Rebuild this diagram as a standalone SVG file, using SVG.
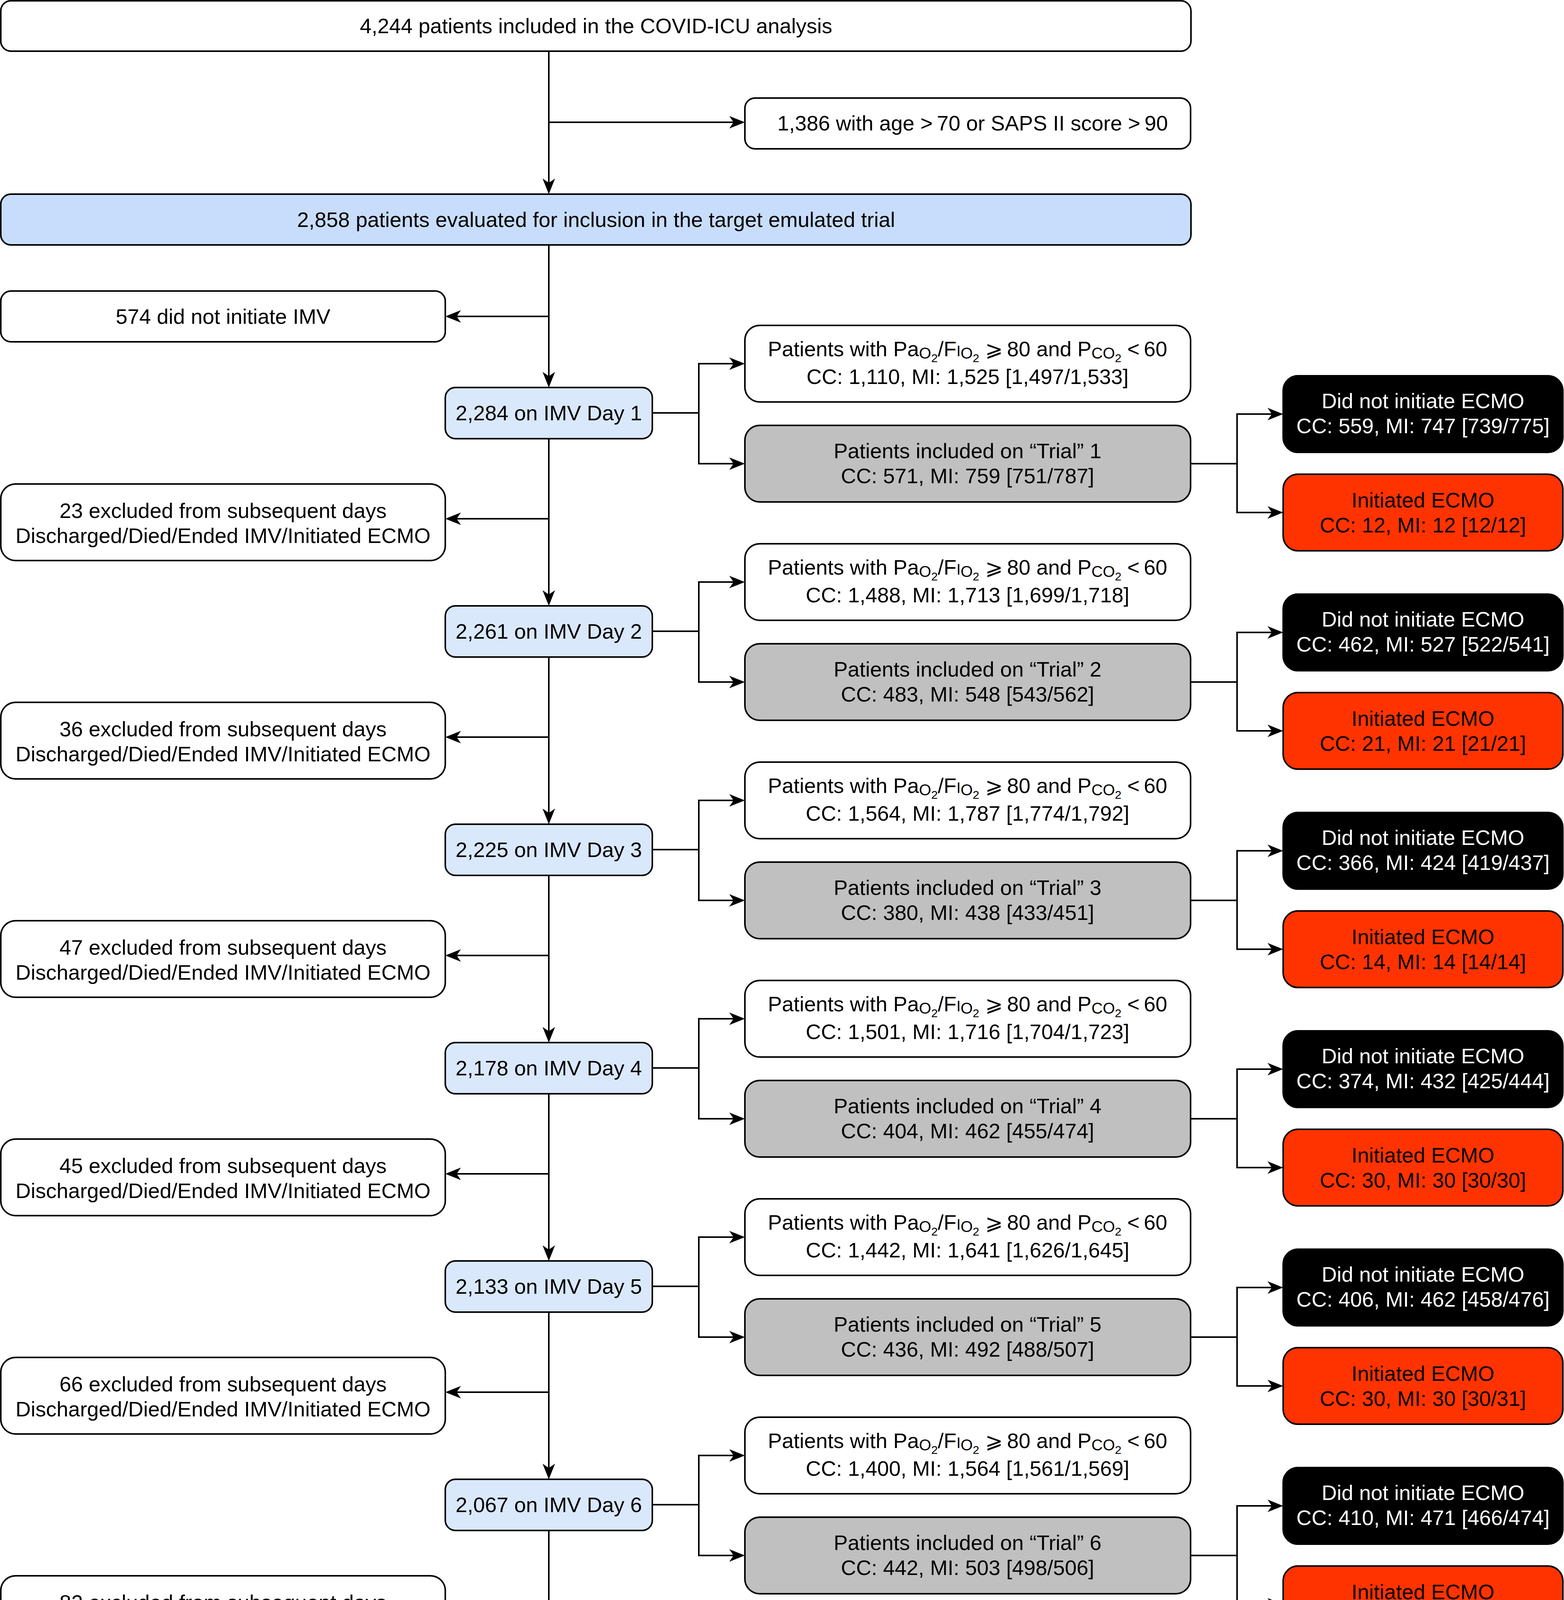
<svg xmlns="http://www.w3.org/2000/svg" width="4004" height="4766" viewBox="0 0 4004 4766">
<style>
.b{stroke:#000;stroke-width:4}
.w{fill:#fff}
.bl{fill:#dae8fc}
.bl2{fill:#c8ddfb}
.g{fill:#c0c0c0}
.k{fill:#000}
.r{fill:#ff3300}
.t{font-family:"Liberation Sans",Arial,Helvetica,"DejaVu Sans",sans-serif;font-size:54px;text-anchor:middle;fill:#000}
.tw{fill:#fff}
.s1{font-size:40px}
.s2{font-size:30px}
.sc{font-size:38px}
.c{fill:none;stroke:#000;stroke-width:4}
</style>
<defs>
<marker id="ah" markerUnits="userSpaceOnUse" markerWidth="44" markerHeight="36" refX="20" refY="16" orient="auto" overflow="visible">
<path d="M0,0 L40,16 L0,32 L11,16 Z" fill="#000"/>
</marker>
</defs>

<g id="connectors">
<path class="c" d="M1405,131 V477" marker-end="url(#ah)"/>
<path class="c" d="M1405,313 H1887" marker-end="url(#ah)"/>
<path class="c" d="M1405,627 V972" marker-end="url(#ah)"/>
<path class="c" d="M1405,810 H1160" marker-end="url(#ah)"/>
<g id="conn-days">
<g transform="translate(0,0)">
<path class="c" d="M1405,1123 V1531" marker-end="url(#ah)"/>
<path class="c" d="M1405,1328 H1160" marker-end="url(#ah)"/>
<path class="c" d="M1670,1057 H1789 V931 H1887" marker-end="url(#ah)"/>
<path class="c" d="M1789,1057 V1187 H1887" marker-end="url(#ah)"/>
<path class="c" d="M3048,1187 H3167 V1060 H3265" marker-end="url(#ah)"/>
<path class="c" d="M3167,1187 V1312 H3265" marker-end="url(#ah)"/>
</g>
<g transform="translate(0,559)">
<path class="c" d="M1405,1123 V1531" marker-end="url(#ah)"/>
<path class="c" d="M1405,1328 H1160" marker-end="url(#ah)"/>
<path class="c" d="M1670,1057 H1789 V931 H1887" marker-end="url(#ah)"/>
<path class="c" d="M1789,1057 V1187 H1887" marker-end="url(#ah)"/>
<path class="c" d="M3048,1187 H3167 V1060 H3265" marker-end="url(#ah)"/>
<path class="c" d="M3167,1187 V1312 H3265" marker-end="url(#ah)"/>
</g>
<g transform="translate(0,1118)">
<path class="c" d="M1405,1123 V1531" marker-end="url(#ah)"/>
<path class="c" d="M1405,1328 H1160" marker-end="url(#ah)"/>
<path class="c" d="M1670,1057 H1789 V931 H1887" marker-end="url(#ah)"/>
<path class="c" d="M1789,1057 V1187 H1887" marker-end="url(#ah)"/>
<path class="c" d="M3048,1187 H3167 V1060 H3265" marker-end="url(#ah)"/>
<path class="c" d="M3167,1187 V1312 H3265" marker-end="url(#ah)"/>
</g>
<g transform="translate(0,1677)">
<path class="c" d="M1405,1123 V1531" marker-end="url(#ah)"/>
<path class="c" d="M1405,1328 H1160" marker-end="url(#ah)"/>
<path class="c" d="M1670,1057 H1789 V931 H1887" marker-end="url(#ah)"/>
<path class="c" d="M1789,1057 V1187 H1887" marker-end="url(#ah)"/>
<path class="c" d="M3048,1187 H3167 V1060 H3265" marker-end="url(#ah)"/>
<path class="c" d="M3167,1187 V1312 H3265" marker-end="url(#ah)"/>
</g>
<g transform="translate(0,2236)">
<path class="c" d="M1405,1123 V1531" marker-end="url(#ah)"/>
<path class="c" d="M1405,1328 H1160" marker-end="url(#ah)"/>
<path class="c" d="M1670,1057 H1789 V931 H1887" marker-end="url(#ah)"/>
<path class="c" d="M1789,1057 V1187 H1887" marker-end="url(#ah)"/>
<path class="c" d="M3048,1187 H3167 V1060 H3265" marker-end="url(#ah)"/>
<path class="c" d="M3167,1187 V1312 H3265" marker-end="url(#ah)"/>
</g>
<g transform="translate(0,2795)">
<path class="c" d="M1405,1123 V1531" marker-end="url(#ah)"/>
<path class="c" d="M1405,1328 H1160" marker-end="url(#ah)"/>
<path class="c" d="M1670,1057 H1789 V931 H1887" marker-end="url(#ah)"/>
<path class="c" d="M1789,1057 V1187 H1887" marker-end="url(#ah)"/>
<path class="c" d="M3048,1187 H3167 V1060 H3265" marker-end="url(#ah)"/>
<path class="c" d="M3167,1187 V1312 H3265" marker-end="url(#ah)"/>
</g>
<g transform="translate(0,3354)">
<path class="c" d="M1670,1057 H1789 V931 H1887" marker-end="url(#ah)"/>
<path class="c" d="M1789,1057 V1187 H1887" marker-end="url(#ah)"/>
<path class="c" d="M3048,1187 H3167 V1060 H3265" marker-end="url(#ah)"/>
<path class="c" d="M3167,1187 V1312 H3265" marker-end="url(#ah)"/>
</g>
</g>
</g>

<g id="n-total"><rect class="b w" x="2" y="2" width="3047" height="129" rx="26"/><text class="t" x="1526" y="85">4,244 patients included in the COVID-ICU analysis</text></g>
<g id="n-age"><rect class="b w" x="1907" y="251" width="1141" height="130" rx="26"/><text class="t" x="2490" y="334">1,386 with age &gt;&#8201;70 or SAPS II score &gt;&#8201;90</text></g>
<g id="n-eval"><rect class="b bl2" x="2" y="497" width="3047" height="130" rx="26"/><text class="t" x="1526" y="581">2,858 patients evaluated for inclusion in the target emulated trial</text></g>
<g id="n-noimv"><rect class="b w" x="2" y="745" width="1138" height="130" rx="26"/><text class="t" x="571" y="829">574 did not initiate IMV</text></g>

<g id="day1"><rect class="b bl" x="1140" y="992" width="530" height="131" rx="26"/><text class="t" x="1405" y="1076">2,284 on IMV Day 1</text></g>
<g id="day2" transform="translate(0,559)"><rect class="b bl" x="1140" y="992" width="530" height="131" rx="26"/><text class="t" x="1405" y="1076">2,261 on IMV Day 2</text></g>
<g id="day3" transform="translate(0,1118)"><rect class="b bl" x="1140" y="992" width="530" height="131" rx="26"/><text class="t" x="1405" y="1076">2,225 on IMV Day 3</text></g>
<g id="day4" transform="translate(0,1677)"><rect class="b bl" x="1140" y="992" width="530" height="131" rx="26"/><text class="t" x="1405" y="1076">2,178 on IMV Day 4</text></g>
<g id="day5" transform="translate(0,2236)"><rect class="b bl" x="1140" y="992" width="530" height="131" rx="26"/><text class="t" x="1405" y="1076">2,133 on IMV Day 5</text></g>
<g id="day6" transform="translate(0,2795)"><rect class="b bl" x="1140" y="992" width="530" height="131" rx="26"/><text class="t" x="1405" y="1076">2,067 on IMV Day 6</text></g>
<g id="day7" transform="translate(0,3354)"><rect class="b bl" x="1140" y="992" width="530" height="131" rx="26"/><text class="t" x="1405" y="1076">1,985 on IMV Day 7</text></g>

<g id="excl1"><rect class="b w" x="2" y="1239" width="1138" height="196" rx="38"/><text class="t" x="571" y="1326">23 excluded from subsequent days</text><text class="t" x="571" y="1390">Discharged/Died/Ended IMV/Initiated ECMO</text></g>
<g id="excl2" transform="translate(0,559)"><rect class="b w" x="2" y="1239" width="1138" height="196" rx="38"/><text class="t" x="571" y="1326">36 excluded from subsequent days</text><text class="t" x="571" y="1390">Discharged/Died/Ended IMV/Initiated ECMO</text></g>
<g id="excl3" transform="translate(0,1118)"><rect class="b w" x="2" y="1239" width="1138" height="196" rx="38"/><text class="t" x="571" y="1326">47 excluded from subsequent days</text><text class="t" x="571" y="1390">Discharged/Died/Ended IMV/Initiated ECMO</text></g>
<g id="excl4" transform="translate(0,1677)"><rect class="b w" x="2" y="1239" width="1138" height="196" rx="38"/><text class="t" x="571" y="1326">45 excluded from subsequent days</text><text class="t" x="571" y="1390">Discharged/Died/Ended IMV/Initiated ECMO</text></g>
<g id="excl5" transform="translate(0,2236)"><rect class="b w" x="2" y="1239" width="1138" height="196" rx="38"/><text class="t" x="571" y="1326">66 excluded from subsequent days</text><text class="t" x="571" y="1390">Discharged/Died/Ended IMV/Initiated ECMO</text></g>
<g id="excl6" transform="translate(0,2795)"><rect class="b w" x="2" y="1239" width="1138" height="196" rx="38"/><text class="t" x="571" y="1326">82 excluded from subsequent days</text><text class="t" x="571" y="1390">Discharged/Died/Ended IMV/Initiated ECMO</text></g>

<g id="crit1"><rect class="b w" x="1907" y="833" width="1141" height="196" rx="38"/><text class="t" x="2477" y="912">Patients with Pa<tspan class="s1" dy="6">O</tspan><tspan class="s2" dy="9">2</tspan><tspan dy="-15">/F</tspan><tspan class="sc">I</tspan><tspan class="s1" dy="6">O</tspan><tspan class="s2" dy="9">2</tspan><tspan dy="-15"> ⩾&#8201;80 and P</tspan><tspan class="s1" dy="6">CO</tspan><tspan class="s2" dy="9">2</tspan><tspan dy="-15"> &lt;&#8201;60</tspan></text><text class="t" x="2477" y="983">CC: 1,110, MI: 1,525 [1,497/1,533]</text></g>
<g id="crit2" transform="translate(0,559)"><rect class="b w" x="1907" y="833" width="1141" height="196" rx="38"/><text class="t" x="2477" y="912">Patients with Pa<tspan class="s1" dy="6">O</tspan><tspan class="s2" dy="9">2</tspan><tspan dy="-15">/F</tspan><tspan class="sc">I</tspan><tspan class="s1" dy="6">O</tspan><tspan class="s2" dy="9">2</tspan><tspan dy="-15"> ⩾&#8201;80 and P</tspan><tspan class="s1" dy="6">CO</tspan><tspan class="s2" dy="9">2</tspan><tspan dy="-15"> &lt;&#8201;60</tspan></text><text class="t" x="2477" y="983">CC: 1,488, MI: 1,713 [1,699/1,718]</text></g>
<g id="crit3" transform="translate(0,1118)"><rect class="b w" x="1907" y="833" width="1141" height="196" rx="38"/><text class="t" x="2477" y="912">Patients with Pa<tspan class="s1" dy="6">O</tspan><tspan class="s2" dy="9">2</tspan><tspan dy="-15">/F</tspan><tspan class="sc">I</tspan><tspan class="s1" dy="6">O</tspan><tspan class="s2" dy="9">2</tspan><tspan dy="-15"> ⩾&#8201;80 and P</tspan><tspan class="s1" dy="6">CO</tspan><tspan class="s2" dy="9">2</tspan><tspan dy="-15"> &lt;&#8201;60</tspan></text><text class="t" x="2477" y="983">CC: 1,564, MI: 1,787 [1,774/1,792]</text></g>
<g id="crit4" transform="translate(0,1677)"><rect class="b w" x="1907" y="833" width="1141" height="196" rx="38"/><text class="t" x="2477" y="912">Patients with Pa<tspan class="s1" dy="6">O</tspan><tspan class="s2" dy="9">2</tspan><tspan dy="-15">/F</tspan><tspan class="sc">I</tspan><tspan class="s1" dy="6">O</tspan><tspan class="s2" dy="9">2</tspan><tspan dy="-15"> ⩾&#8201;80 and P</tspan><tspan class="s1" dy="6">CO</tspan><tspan class="s2" dy="9">2</tspan><tspan dy="-15"> &lt;&#8201;60</tspan></text><text class="t" x="2477" y="983">CC: 1,501, MI: 1,716 [1,704/1,723]</text></g>
<g id="crit5" transform="translate(0,2236)"><rect class="b w" x="1907" y="833" width="1141" height="196" rx="38"/><text class="t" x="2477" y="912">Patients with Pa<tspan class="s1" dy="6">O</tspan><tspan class="s2" dy="9">2</tspan><tspan dy="-15">/F</tspan><tspan class="sc">I</tspan><tspan class="s1" dy="6">O</tspan><tspan class="s2" dy="9">2</tspan><tspan dy="-15"> ⩾&#8201;80 and P</tspan><tspan class="s1" dy="6">CO</tspan><tspan class="s2" dy="9">2</tspan><tspan dy="-15"> &lt;&#8201;60</tspan></text><text class="t" x="2477" y="983">CC: 1,442, MI: 1,641 [1,626/1,645]</text></g>
<g id="crit6" transform="translate(0,2795)"><rect class="b w" x="1907" y="833" width="1141" height="196" rx="38"/><text class="t" x="2477" y="912">Patients with Pa<tspan class="s1" dy="6">O</tspan><tspan class="s2" dy="9">2</tspan><tspan dy="-15">/F</tspan><tspan class="sc">I</tspan><tspan class="s1" dy="6">O</tspan><tspan class="s2" dy="9">2</tspan><tspan dy="-15"> ⩾&#8201;80 and P</tspan><tspan class="s1" dy="6">CO</tspan><tspan class="s2" dy="9">2</tspan><tspan dy="-15"> &lt;&#8201;60</tspan></text><text class="t" x="2477" y="983">CC: 1,400, MI: 1,564 [1,561/1,569]</text></g>
<g id="crit7" transform="translate(0,3354)"><rect class="b w" x="1907" y="833" width="1141" height="196" rx="38"/><text class="t" x="2477" y="912">Patients with Pa<tspan class="s1" dy="6">O</tspan><tspan class="s2" dy="9">2</tspan><tspan dy="-15">/F</tspan><tspan class="sc">I</tspan><tspan class="s1" dy="6">O</tspan><tspan class="s2" dy="9">2</tspan><tspan dy="-15"> ⩾&#8201;80 and P</tspan><tspan class="s1" dy="6">CO</tspan><tspan class="s2" dy="9">2</tspan><tspan dy="-15"> &lt;&#8201;60</tspan></text><text class="t" x="2477" y="983">CC: 1,348, MI: 1,490 [1,481/1,498]</text></g>

<g id="trial1"><rect class="b g" x="1907" y="1089" width="1141" height="196" rx="38"/><text class="t" x="2477" y="1173">Patients included on “Trial” 1</text><text class="t" x="2477" y="1237">CC: 571, MI: 759 [751/787]</text></g>
<g id="trial2" transform="translate(0,559)"><rect class="b g" x="1907" y="1089" width="1141" height="196" rx="38"/><text class="t" x="2477" y="1173">Patients included on “Trial” 2</text><text class="t" x="2477" y="1237">CC: 483, MI: 548 [543/562]</text></g>
<g id="trial3" transform="translate(0,1118)"><rect class="b g" x="1907" y="1089" width="1141" height="196" rx="38"/><text class="t" x="2477" y="1173">Patients included on “Trial” 3</text><text class="t" x="2477" y="1237">CC: 380, MI: 438 [433/451]</text></g>
<g id="trial4" transform="translate(0,1677)"><rect class="b g" x="1907" y="1089" width="1141" height="196" rx="38"/><text class="t" x="2477" y="1173">Patients included on “Trial” 4</text><text class="t" x="2477" y="1237">CC: 404, MI: 462 [455/474]</text></g>
<g id="trial5" transform="translate(0,2236)"><rect class="b g" x="1907" y="1089" width="1141" height="196" rx="38"/><text class="t" x="2477" y="1173">Patients included on “Trial” 5</text><text class="t" x="2477" y="1237">CC: 436, MI: 492 [488/507]</text></g>
<g id="trial6" transform="translate(0,2795)"><rect class="b g" x="1907" y="1089" width="1141" height="196" rx="38"/><text class="t" x="2477" y="1173">Patients included on “Trial” 6</text><text class="t" x="2477" y="1237">CC: 442, MI: 503 [498/506]</text></g>
<g id="trial7" transform="translate(0,3354)"><rect class="b g" x="1907" y="1089" width="1141" height="196" rx="38"/><text class="t" x="2477" y="1173">Patients included on “Trial” 7</text><text class="t" x="2477" y="1237">CC: 440, MI: 495 [487/504]</text></g>

<g id="noecmo1"><rect class="b k" x="3285" y="962" width="716" height="196" rx="38"/><text class="t tw" x="3643" y="1045">Did not initiate ECMO</text><text class="t tw" x="3643" y="1109">CC: 559, MI: 747 [739/775]</text></g>
<g id="noecmo2" transform="translate(0,559)"><rect class="b k" x="3285" y="962" width="716" height="196" rx="38"/><text class="t tw" x="3643" y="1045">Did not initiate ECMO</text><text class="t tw" x="3643" y="1109">CC: 462, MI: 527 [522/541]</text></g>
<g id="noecmo3" transform="translate(0,1118)"><rect class="b k" x="3285" y="962" width="716" height="196" rx="38"/><text class="t tw" x="3643" y="1045">Did not initiate ECMO</text><text class="t tw" x="3643" y="1109">CC: 366, MI: 424 [419/437]</text></g>
<g id="noecmo4" transform="translate(0,1677)"><rect class="b k" x="3285" y="962" width="716" height="196" rx="38"/><text class="t tw" x="3643" y="1045">Did not initiate ECMO</text><text class="t tw" x="3643" y="1109">CC: 374, MI: 432 [425/444]</text></g>
<g id="noecmo5" transform="translate(0,2236)"><rect class="b k" x="3285" y="962" width="716" height="196" rx="38"/><text class="t tw" x="3643" y="1045">Did not initiate ECMO</text><text class="t tw" x="3643" y="1109">CC: 406, MI: 462 [458/476]</text></g>
<g id="noecmo6" transform="translate(0,2795)"><rect class="b k" x="3285" y="962" width="716" height="196" rx="38"/><text class="t tw" x="3643" y="1045">Did not initiate ECMO</text><text class="t tw" x="3643" y="1109">CC: 410, MI: 471 [466/474]</text></g>
<g id="noecmo7" transform="translate(0,3354)"><rect class="b k" x="3285" y="962" width="716" height="196" rx="38"/><text class="t tw" x="3643" y="1045">Did not initiate ECMO</text><text class="t tw" x="3643" y="1109">CC: 415, MI: 470 [462/478]</text></g>

<g id="ecmo1"><rect class="b r" x="3285" y="1214" width="716" height="196" rx="38"/><text class="t" x="3643" y="1299">Initiated ECMO</text><text class="t" x="3643" y="1363">CC: 12, MI: 12 [12/12]</text></g>
<g id="ecmo2" transform="translate(0,559)"><rect class="b r" x="3285" y="1214" width="716" height="196" rx="38"/><text class="t" x="3643" y="1299">Initiated ECMO</text><text class="t" x="3643" y="1363">CC: 21, MI: 21 [21/21]</text></g>
<g id="ecmo3" transform="translate(0,1118)"><rect class="b r" x="3285" y="1214" width="716" height="196" rx="38"/><text class="t" x="3643" y="1299">Initiated ECMO</text><text class="t" x="3643" y="1363">CC: 14, MI: 14 [14/14]</text></g>
<g id="ecmo4" transform="translate(0,1677)"><rect class="b r" x="3285" y="1214" width="716" height="196" rx="38"/><text class="t" x="3643" y="1299">Initiated ECMO</text><text class="t" x="3643" y="1363">CC: 30, MI: 30 [30/30]</text></g>
<g id="ecmo5" transform="translate(0,2236)"><rect class="b r" x="3285" y="1214" width="716" height="196" rx="38"/><text class="t" x="3643" y="1299">Initiated ECMO</text><text class="t" x="3643" y="1363">CC: 30, MI: 30 [30/31]</text></g>
<g id="ecmo6" transform="translate(0,2795)"><rect class="b r" x="3285" y="1214" width="716" height="196" rx="38"/><text class="t" x="3643" y="1299">Initiated ECMO</text><text class="t" x="3643" y="1363">CC: 32, MI: 32 [32/32]</text></g>
<g id="ecmo7" transform="translate(0,3354)"><rect class="b r" x="3285" y="1214" width="716" height="196" rx="38"/><text class="t" x="3643" y="1299">Initiated ECMO</text><text class="t" x="3643" y="1363">CC: 25, MI: 25 [25/26]</text></g>
</svg>
